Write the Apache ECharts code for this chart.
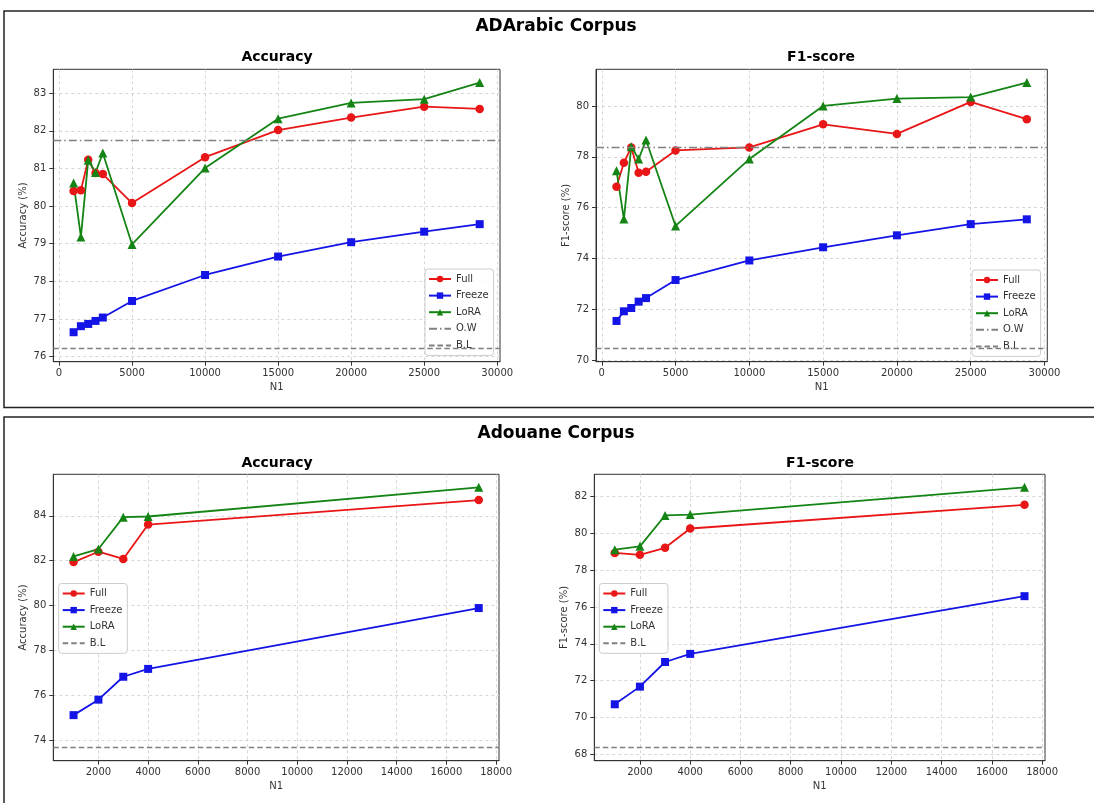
<!DOCTYPE html>
<html>
<head>
<meta charset="utf-8">
<script src="https://cdn.jsdelivr.net/npm/echarts@6/dist/echarts.min.js"></script>
<style>
html,body{margin:0;padding:0;background:#fff;}
#chart{width:1094px;height:803px;}
</style>
</head>
<body>
<div id="chart"></div>
<script>
// ---- Data ----
const nTop = [1000, 1500, 2000, 2500, 3000, 5000, 10000, 15000, 20000, 25000, 28800];
const nBottom = [1000, 2000, 3000, 4000, 17300];

const adaAccFull   = [80.40, 80.42, 81.23, 80.88, 80.85, 80.08, 81.30, 82.02, 82.35, 82.64, 82.58];
const adaAccFreeze = [76.65, 76.81, 76.87, 76.95, 77.04, 77.48, 78.17, 78.66, 79.04, 79.32, 79.52];
const adaAccLora   = [80.61, 79.18, 81.22, 80.89, 81.41, 78.98, 81.01, 82.32, 82.74, 82.84, 83.28];
const adaAccOW = 81.75;
const adaAccBL = 76.22;

const adaF1Full   = [76.82, 77.77, 78.37, 77.37, 77.41, 78.25, 78.37, 79.28, 78.90, 80.16, 79.48];
const adaF1Freeze = [71.54, 71.92, 72.05, 72.30, 72.44, 73.15, 73.92, 74.44, 74.91, 75.35, 75.54];
const adaF1Lora   = [77.45, 75.55, 78.40, 77.91, 78.66, 75.28, 77.91, 80.00, 80.29, 80.35, 80.92];
const adaF1OW = 78.37;
const adaF1BL = 70.46;

const adoAccFull   = [81.94, 82.40, 82.08, 83.61, 84.70];
const adoAccFreeze = [75.12, 75.81, 76.83, 77.18, 79.89];
const adoAccLora   = [82.19, 82.52, 83.94, 83.97, 85.27];
const adoAccBL = 73.67;

const adoF1Full   = [78.94, 78.84, 79.22, 80.27, 81.56];
const adoF1Freeze = [70.71, 71.67, 73.01, 73.45, 76.59];
const adoF1Lora   = [79.12, 79.30, 80.98, 81.03, 82.51];
const adoF1BL = 68.35;

// tick labels
const xTicksTop = [0, 5000, 10000, 15000, 20000, 25000, 30000];
const xTicksBottom = [2000, 4000, 6000, 8000, 10000, 12000, 14000, 16000, 18000];
const yTicksAdaAcc = [76, 77, 78, 79, 80, 81, 82, 83];
const yTicksAdaF1 = [70, 72, 74, 76, 78, 80];
const yTicksAdoAcc = [74, 76, 78, 80, 82, 84];
const yTicksAdoF1 = [68, 70, 72, 74, 76, 78, 80, 82];

// ---- Styling helpers ----
const FONT = 'DejaVu Sans';
const COL = {Full: '#e81616', Freeze: '#1414e6', LoRA: '#148414', ref: '#808080'};

function pad(vals) {
  const mn = Math.min.apply(null, vals), mx = Math.max.apply(null, vals);
  const m = (mx - mn) * 0.05;
  return [mn - m, mx + m];
}
const fmt = v => String(v);

function xAxisDef(gi, xs, ticks) {
  const e = pad(xs);
  return {
    type: 'value', gridIndex: gi, min: e[0], max: e[1],
    name: 'N1', nameLocation: 'middle', nameGap: 21,
    nameTextStyle: {fontFamily: FONT, fontSize: 10, color: '#333'},
    axisLine: {show: true, onZero: false, lineStyle: {color: '#333', width: 1}},
    axisTick: {show: true, length: 4, inside: false, customValues: ticks, lineStyle: {color: '#333'}},
    axisLabel: {customValues: ticks, formatter: fmt, fontFamily: FONT, fontSize: 10, color: '#333', margin: 7},
    splitLine: {show: true, lineStyle: {color: '#cccccc', width: 0.8, type: [3, 3]}}
  };
}
function yAxisDef(gi, vals, ticks, name) {
  const e = pad(vals);
  return {
    type: 'value', gridIndex: gi, min: e[0], max: e[1], scale: true,
    name: name, nameLocation: 'middle', nameGap: 25,
    nameTextStyle: {fontFamily: FONT, fontSize: 10, color: '#333'},
    axisLine: {show: true, onZero: false, lineStyle: {color: '#333', width: 1}},
    axisTick: {show: true, length: 4, inside: false, customValues: ticks, lineStyle: {color: '#333'}},
    axisLabel: {customValues: ticks, formatter: fmt, fontFamily: FONT, fontSize: 10, color: '#333', margin: 7},
    splitLine: {show: true, lineStyle: {color: '#cccccc', width: 0.8, type: [3, 3]}}
  };
}
function lineSeries(name, gi, xs, ys, symbol, size) {
  return {
    name: name, type: 'line', xAxisIndex: gi, yAxisIndex: gi,
    data: xs.map((x, i) => [x, ys[i]]),
    symbol: symbol, symbolSize: size, showSymbol: true,
    lineStyle: {color: COL[name], width: 1.8},
    itemStyle: {color: COL[name]},
    animation: false
  };
}
function refSeries(name, gi, value, dash) {
  return {
    name: name, type: 'line', xAxisIndex: gi, yAxisIndex: gi, data: [],
    symbol: 'none', symbolSize: 0,
    lineStyle: {color: COL.ref, width: 1.3, type: dash},
    itemStyle: {color: COL.ref, opacity: 0},
    markLine: {
      silent: true, symbol: ['none', 'none'], label: {show: false},
      lineStyle: {color: COL.ref, width: 1.3, type: dash, opacity: 1},
      data: [{yAxis: value}], animation: false
    },
    animation: false
  };
}
function legendItems(names) {
  return names.map(n => (n === 'O.W' || n === 'B.L')
    ? {name: n, itemStyle: {opacity: 0}}
    : {name: n});
}
function legendDef(left, top, names) {
  return {
    orient: 'vertical', left: left, top: top, data: legendItems(names),
    itemWidth: 22, itemHeight: 8, itemGap: 4.6,
    padding: [4, 5, 4, 3],
    backgroundColor: 'rgba(255,255,255,0.85)',
    borderColor: '#cccccc', borderWidth: 1, borderRadius: 3,
    textStyle: {fontFamily: FONT, fontSize: 10, color: '#333', lineHeight: 12},
    selectedMode: false
  };
}

const DASH = [5.5, 3];
const DASHDOT = [8, 3, 1.5, 3];

const option = {
  animation: false,
  backgroundColor: '#ffffff',
  grid: [
    {left: 53.3, top: 69.3, width: 446.7, height: 292.4, show: true, borderColor: '#333', borderWidth: 1, backgroundColor: 'transparent'},
    {left: 596, top: 69.3, width: 451.3, height: 292.4, show: true, borderColor: '#333', borderWidth: 1, backgroundColor: 'transparent'},
    {left: 53.3, top: 474.3, width: 445.7, height: 286.4, show: true, borderColor: '#333', borderWidth: 1, backgroundColor: 'transparent'},
    {left: 594.3, top: 474.3, width: 450.7, height: 286.4, show: true, borderColor: '#333', borderWidth: 1, backgroundColor: 'transparent'}
  ],
  xAxis: [
    xAxisDef(0, nTop, xTicksTop),
    xAxisDef(1, nTop, xTicksTop),
    xAxisDef(2, nBottom, xTicksBottom),
    xAxisDef(3, nBottom, xTicksBottom)
  ],
  yAxis: [
    yAxisDef(0, adaAccFull.concat(adaAccFreeze, adaAccLora, [adaAccOW, adaAccBL]), yTicksAdaAcc, 'Accuracy (%)'),
    yAxisDef(1, adaF1Full.concat(adaF1Freeze, adaF1Lora, [adaF1OW, adaF1BL]), yTicksAdaF1, 'F1-score (%)'),
    yAxisDef(2, adoAccFull.concat(adoAccFreeze, adoAccLora, [adoAccBL]), yTicksAdoAcc, 'Accuracy (%)'),
    yAxisDef(3, adoF1Full.concat(adoF1Freeze, adoF1Lora, [adoF1BL]), yTicksAdoF1, 'F1-score (%)')
  ],
  legend: [
    legendDef(425, 269, ['Full', 'Freeze', 'LoRA', 'O.W', 'B.L']),
    legendDef(972, 270, ['Full', 'Freeze', 'LoRA', 'O.W', 'B.L']),
    legendDef(58.7, 583.5, ['Full', 'Freeze', 'LoRA', 'B.L']),
    legendDef(599.3, 583.5, ['Full', 'Freeze', 'LoRA', 'B.L'])
  ],
  series: [
    refSeries('O.W', 0, adaAccOW, DASHDOT),
    refSeries('B.L', 0, adaAccBL, DASH),
    lineSeries('Full', 0, nTop, adaAccFull, 'circle', 8.5),
    lineSeries('Freeze', 0, nTop, adaAccFreeze, 'rect', 8),
    lineSeries('LoRA', 0, nTop, adaAccLora, 'triangle', 9),

    refSeries('O.W', 1, adaF1OW, DASHDOT),
    refSeries('B.L', 1, adaF1BL, DASH),
    lineSeries('Full', 1, nTop, adaF1Full, 'circle', 8.5),
    lineSeries('Freeze', 1, nTop, adaF1Freeze, 'rect', 8),
    lineSeries('LoRA', 1, nTop, adaF1Lora, 'triangle', 9),

    refSeries('B.L', 2, adoAccBL, DASH),
    lineSeries('Full', 2, nBottom, adoAccFull, 'circle', 8.5),
    lineSeries('Freeze', 2, nBottom, adoAccFreeze, 'rect', 8),
    lineSeries('LoRA', 2, nBottom, adoAccLora, 'triangle', 9),

    refSeries('B.L', 3, adoF1BL, DASH),
    lineSeries('Full', 3, nBottom, adoF1Full, 'circle', 8.5),
    lineSeries('Freeze', 3, nBottom, adoF1Freeze, 'rect', 8),
    lineSeries('LoRA', 3, nBottom, adoF1Lora, 'triangle', 9)
  ],
  graphic: [
    {type: 'rect', shape: {x: 4, y: 11, width: 1100, height: 396.5}, style: {fill: 'none', stroke: '#222', lineWidth: 1.5}, silent: true},
    {type: 'rect', shape: {x: 4, y: 417, width: 1100, height: 400}, style: {fill: 'none', stroke: '#222', lineWidth: 1.5}, silent: true},
    {type: 'text', x: 556, y: 27, style: {text: 'ADArabic Corpus', font: 'bold 17px "DejaVu Sans"', fill: '#000', textAlign: 'center', textVerticalAlign: 'middle'}, silent: true},
    {type: 'text', x: 556, y: 434, style: {text: 'Adouane Corpus', font: 'bold 17px "DejaVu Sans"', fill: '#000', textAlign: 'center', textVerticalAlign: 'middle'}, silent: true},
    {type: 'text', x: 277, y: 57, style: {text: 'Accuracy', font: 'bold 14px "DejaVu Sans"', fill: '#000', textAlign: 'center', textVerticalAlign: 'middle'}, silent: true},
    {type: 'text', x: 821, y: 57, style: {text: 'F1-score', font: 'bold 14px "DejaVu Sans"', fill: '#000', textAlign: 'center', textVerticalAlign: 'middle'}, silent: true},
    {type: 'text', x: 277, y: 463.5, style: {text: 'Accuracy', font: 'bold 14px "DejaVu Sans"', fill: '#000', textAlign: 'center', textVerticalAlign: 'middle'}, silent: true},
    {type: 'text', x: 820, y: 463.5, style: {text: 'F1-score', font: 'bold 14px "DejaVu Sans"', fill: '#000', textAlign: 'center', textVerticalAlign: 'middle'}, silent: true}
  ]
};

const chart = echarts.init(document.getElementById('chart'), null, {renderer: 'canvas'});
chart.setOption(option);
</script>
</body>
</html>
